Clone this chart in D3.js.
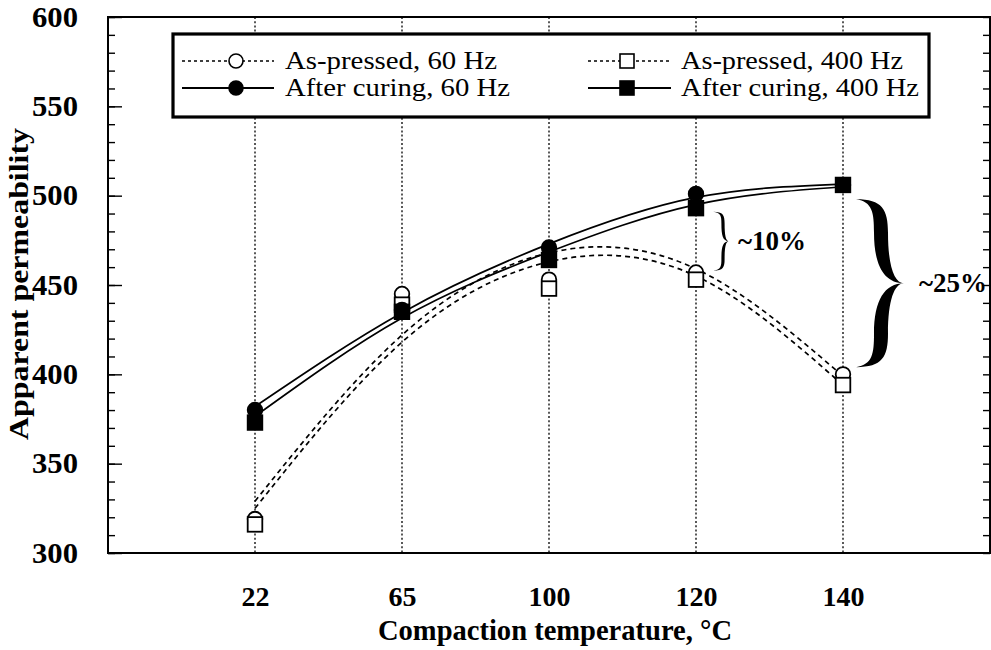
<!DOCTYPE html>
<html>
<head>
<meta charset="utf-8">
<script src="https://cdn.jsdelivr.net/npm/d3@7"></script>
<style>
  html, body { margin: 0; padding: 0; background: #fff; }
  svg { display: block; }
  text { font-family: "Liberation Serif", "DejaVu Serif Condensed", "DejaVu Serif", serif; fill: #000; }
</style>
</head>
<body>
<svg id="chart" width="991" height="650"></svg>
<script>
// Compaction temperatures (categorical, evenly spaced)
const categories = ["22", "65", "100", "120", "140"];

// Measured apparent permeability
const asPressed60 = [319, 445, 453, 457, 400];
const asPressed400 = [316, 439, 448, 453, 394];
const afterCuring60 = [380, 436, 471, 501, 506];
const afterCuring400 = [373, 435, 464, 493, 506];

// Smoothed trend curves drawn through the data
const trendAsPressed60 = [329, 422, 468, 459, 399];
const trendAsPressed400 = [325, 418, 463, 455, 394];
const trendCured60 = [382, 434.5, 473, 499, 506.5];
const trendCured400 = [376.5, 431.5, 468.5, 495, 505];

// Axis ticks
const yMajorTicks = [300, 350, 400, 450, 500, 550, 600];
const yMinorTicks = d3.range(300, 601, 10);

// Bracketed differences
const braceCats = ["120", "140"];
const braceTop = [491, 498];
const braceBottom = [458, 404];
const braceLabels = ["~10%", "~25%"];

// Legend
const legendLabels = ["As-pressed, 60 Hz", "As-pressed, 400 Hz", "After curing, 60 Hz", "After curing, 400 Hz"];

const svg = d3.select("#chart");
const plotLeft = 108, plotRight = 990, plotTop = 17, plotBottom = 553;

const x = d3.scalePoint().domain(categories).range([plotLeft, plotRight]).padding(1);
const y = d3.scaleLinear().domain([300, 600]).range([plotBottom, plotTop]);

// Dotted vertical guides at each temperature
svg.append("g").selectAll("line").data(categories).join("line")
  .attr("x1", d => x(d)).attr("x2", d => x(d))
  .attr("y1", plotTop).attr("y2", plotBottom)
  .attr("stroke", "#000").attr("stroke-width", 1.3)
  .attr("stroke-dasharray", "2,2.2");

// Left axis: minor and major ticks pointing inward
const gMinor = svg.append("g").attr("transform", `translate(${plotLeft},0)`)
  .call(d3.axisLeft(y).tickValues(yMinorTicks).tickSizeInner(-7).tickSizeOuter(0).tickFormat(""));
const gMajor = svg.append("g").attr("transform", `translate(${plotLeft},0)`)
  .call(d3.axisLeft(y).tickValues(yMajorTicks).tickSizeInner(-14).tickSizeOuter(0).tickPadding(30));
gMajor.selectAll("text").attr("font-size", 29).attr("font-weight", "bold")
  .attr("textLength", 46).attr("lengthAdjust", "spacingAndGlyphs");
// Right axis ticks
const gRight = svg.append("g").attr("transform", `translate(${plotRight},0)`)
  .call(d3.axisRight(y).tickValues(yMinorTicks).tickSizeInner(-7).tickSizeOuter(0).tickFormat(""));
[gMinor, gMajor, gRight].forEach(g => {
  g.select(".domain").remove();
  g.selectAll(".tick line").attr("stroke", "#000").attr("stroke-width", 1.4);
});

// Bottom category labels
const gX = svg.append("g").attr("transform", `translate(0,${plotBottom})`)
  .call(d3.axisBottom(x).tickSize(0).tickPadding(33));
gX.select(".domain").remove();
gX.selectAll("text").attr("font-size", 28).attr("font-weight", "bold")
  .attr("textLength", d => d.length * 14).attr("lengthAdjust", "spacingAndGlyphs");

// Plot frame
svg.append("rect").attr("x", plotLeft).attr("y", plotTop)
  .attr("width", plotRight - plotLeft).attr("height", plotBottom - plotTop)
  .attr("fill", "none").attr("stroke", "#000").attr("stroke-width", 2);

// Axis titles
svg.append("text").attr("x", 555).attr("y", 640).attr("text-anchor", "middle")
  .attr("font-size", 29).attr("font-weight", "bold")
  .attr("textLength", 354).attr("lengthAdjust", "spacingAndGlyphs")
  .text("Compaction temperature, °C");
svg.append("text").attr("transform", "translate(28,284) rotate(-90)")
  .attr("text-anchor", "middle").attr("font-size", 27).attr("font-weight", "bold")
  .attr("textLength", 312).attr("lengthAdjust", "spacingAndGlyphs")
  .text("Apparent permeability");

// Trend curves
const line = d3.line().x((d, i) => x(categories[i])).y(d => y(d)).curve(d3.curveNatural);
const curves = [
  { data: trendAsPressed60, dash: "5,4" },
  { data: trendAsPressed400, dash: "5,4" },
  { data: trendCured60, dash: null },
  { data: trendCured400, dash: null }
];
svg.append("g").selectAll("path").data(curves).join("path")
  .attr("d", d => line(d.data))
  .attr("fill", "none").attr("stroke", "#000").attr("stroke-width", 1.7)
  .attr("stroke-dasharray", d => d.dash);

// Markers
const r = 7.3, side = 14.6;
function circles(values, fill) {
  svg.append("g").selectAll("circle").data(values).join("circle")
    .attr("cx", (d, i) => x(categories[i])).attr("cy", d => y(d)).attr("r", r)
    .attr("fill", fill).attr("stroke", "#000").attr("stroke-width", 1.8);
}
function squares(values, fill) {
  svg.append("g").selectAll("rect").data(values).join("rect")
    .attr("x", (d, i) => x(categories[i]) - side / 2).attr("y", d => y(d) - side / 2)
    .attr("width", side).attr("height", side)
    .attr("fill", fill).attr("stroke", "#000").attr("stroke-width", 1.8);
}
circles(asPressed60, "#fff");
squares(asPressed400, "#fff");
circles(afterCuring60, "#000");
squares(afterCuring400, "#000");

// Curly braces with calligraphic thickness
function bracePath(x0, y0, y1, w, s, t) {
  const h = y1 - y0, m = y0 + h / 2, xs = x0 + s, R = xs + t / 2, L = xs - t / 2, xt = x0 + w;
  return [
    `M${x0},${y0}`,
    `C${xs + t * 0.1},${y0} ${R},${y0 + h * 0.06} ${R},${y0 + h * 0.2}`,
    `C${R},${y0 + h * 0.4} ${x0 + w * 0.8},${m} ${xt},${m}`,
    `C${x0 + w * 0.8},${m} ${R},${y1 - h * 0.4} ${R},${y1 - h * 0.2}`,
    `C${R},${y1 - h * 0.06} ${xs + t * 0.1},${y1} ${x0},${y1}`,
    `C${xs - t * 0.6},${y1 - h * 0.015} ${L},${y1 - h * 0.08} ${L},${y1 - h * 0.2}`,
    `C${L},${y1 - h * 0.4} ${x0 + w * 0.6},${m} ${xt},${m}`,
    `C${x0 + w * 0.6},${m} ${L},${y0 + h * 0.4} ${L},${y0 + h * 0.2}`,
    `C${L},${y0 + h * 0.08} ${xs - t * 0.6},${y0 + h * 0.015} ${x0},${y0}`,
    "Z"
  ].join(" ");
}
const braceStyle = [
  { dx: 17, w: 16, s: 10, t: 3.2, gap: 9 },
  { dx: 13, w: 48, s: 25, t: 14, gap: 15 }
];
braceCats.forEach((c, i) => {
  const st = braceStyle[i];
  const x0 = x(c) + st.dx, y0 = y(braceTop[i]), y1 = y(braceBottom[i]);
  svg.append("path").attr("d", bracePath(x0, y0, y1, st.w, st.s, st.t)).attr("fill", "#000");
  svg.append("text").attr("x", x0 + st.w + st.gap).attr("y", (y0 + y1) / 2 + 9)
    .attr("font-size", 27).attr("font-weight", "bold")
    .attr("textLength", 68).attr("lengthAdjust", "spacingAndGlyphs")
    .text(braceLabels[i]);
});

// Legend
const lg = svg.append("g");
lg.append("rect").attr("x", 173).attr("y", 34).attr("width", 756).attr("height", 83)
  .attr("fill", "#fff").attr("stroke", "#000").attr("stroke-width", 3.2);
const legendItems = [
  { label: legendLabels[0], col: 0, row: 0, dash: "3,3", shape: "circle", fill: "#fff", len: 212 },
  { label: legendLabels[1], col: 1, row: 0, dash: "3,3", shape: "square", fill: "#fff", len: 222 },
  { label: legendLabels[2], col: 0, row: 1, dash: null, shape: "circle", fill: "#000", len: 225 },
  { label: legendLabels[3], col: 1, row: 1, dash: null, shape: "square", fill: "#000", len: 238 }
];
const colX = [{ l0: 182, m: 236, l1: 274, t: 285 }, { l0: 588, m: 627, l1: 671, t: 681 }];
const rowY = [61, 88];
legendItems.forEach(it => {
  const c = colX[it.col], yy = rowY[it.row];
  lg.append("line").attr("x1", c.l0).attr("x2", c.l1).attr("y1", yy).attr("y2", yy)
    .attr("stroke", "#000").attr("stroke-width", it.dash ? 1.4 : 2)
    .attr("stroke-dasharray", it.dash);
  if (it.shape === "circle") {
    lg.append("circle").attr("cx", c.m).attr("cy", yy).attr("r", 7)
      .attr("fill", it.fill).attr("stroke", "#000").attr("stroke-width", 1.6);
  } else {
    lg.append("rect").attr("x", c.m - 7).attr("y", yy - 7).attr("width", 14).attr("height", 14)
      .attr("fill", it.fill).attr("stroke", "#000").attr("stroke-width", 1.6);
  }
  lg.append("text").attr("x", c.t).attr("y", yy + 8).attr("font-size", 25)
    .attr("textLength", it.len).attr("lengthAdjust", "spacingAndGlyphs")
    .text(it.label);
});
</script>
</body>
</html>
